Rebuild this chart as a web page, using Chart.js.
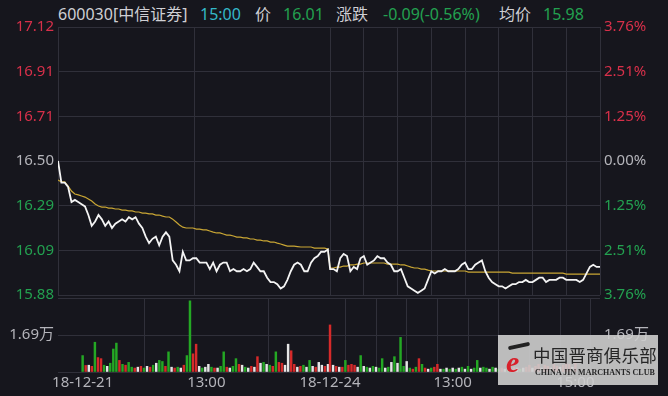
<!DOCTYPE html>
<html lang="zh-CN">
<head>
<meta charset="UTF-8">
<title>600030 分时</title>
<script src="https://cdn.jsdelivr.net/npm/chart.js@4.4.1/dist/chart.umd.min.js"></script>
<style>
  body { margin: 0; width: 668px; height: 396px; overflow: hidden; position: relative;
         background: #16161d; font-family: "Noto Sans", "Noto Sans CJK SC", sans-serif; }
  canvas { position: absolute; left: 0; }
  #price { top: 0; }
  #vol { top: 285px; }
  .hd { position: absolute; top: 3px; font-size: 16px; line-height: 22px; white-space: nowrap; color: #cfcfd4; }
  .g { color: #23a150; }
  .c { color: #34b8c8; }
  #wm { position: absolute; left: 498px; top: 335px; width: 160px; height: 50px;
        background: rgba(206,206,206,0.9); }
  #wm .logo { position: absolute; left: 8px; top: 12px; font: italic bold 30px "Liberation Serif", serif;
              color: #d8202a; line-height: 30px; }
  #wm .brush { position: absolute; left: 10px; top: 9px; width: 22px; height: 4px; background: #222;
               transform: rotate(-12deg); border-radius: 2px; }
  #wm .cn { position: absolute; left: 35px; top: 10px; font: 17.5px "Noto Sans CJK SC", sans-serif;
            color: #262626; line-height: 20px; letter-spacing: 0.2px; }
  #wm .en { position: absolute; left: 37px; top: 33px; font: bold 8px "Liberation Serif", serif;
            color: #262626; line-height: 10px; white-space: nowrap; }
</style>
</head>
<body>

<div class="hd" style="left:58px">600030[中信证券]</div>
<div class="hd c" style="left:200px">15:00</div>
<div class="hd" style="left:255px">价</div>
<div class="hd g" style="left:283px">16.01</div>
<div class="hd" style="left:336px">涨跌</div>
<div class="hd g" style="left:383px">-0.09(-0.56%)</div>
<div class="hd" style="left:499px">均价</div>
<div class="hd g" style="left:543px">15.98</div>

<canvas id="price" width="668" height="310"></canvas>
<canvas id="vol" width="668" height="111"></canvas>

<div id="wm">
  <div class="brush"></div>
  <span class="logo">e</span>
  <div class="cn">中国晋商俱乐部</div>
  <div class="en">CHINA JIN MARCHANTS CLUB</div>
</div>

<script>
// sampled every 3 minutes, day 2 starts at minute slot 242
const STEP = 3;
const DAY2_START = 242;
const X_MAX = 482;

const day1Price = [
  16.50, 16.40, 16.40, 16.38, 16.31, 16.32, 16.31, 16.30, 16.29, 16.25,
  16.20, 16.22, 16.25, 16.23, 16.20, 16.22, 16.19, 16.21, 16.22, 16.23,
  16.22, 16.24, 16.23, 16.24, 16.21, 16.19, 16.15, 16.12, 16.14, 16.15,
  16.11, 16.15, 16.17, 16.15, 16.04, 16.02, 15.99, 16.08, 16.04, 16.04,
  16.05, 16.05, 16.03, 16.03, 16.03, 16.00, 16.03, 15.99, 16.02, 16.03,
  16.03, 15.99, 16.00, 15.99, 15.99, 16.00, 15.99, 16.00, 16.03, 16.01,
  15.99, 15.99, 15.96, 15.94, 15.94, 15.93, 15.91, 15.92, 15.95, 15.99,
  16.02, 16.03, 16.02, 15.99, 15.99, 16.03, 16.05, 16.06, 16.08, 16.08,
  16.09
];
const day2Price = [
  16.00, 16.00, 15.99, 16.05, 16.07, 16.06, 15.99, 16.01, 16.00, 16.05,
  16.06, 16.02, 16.03, 16.04, 16.06, 16.05, 16.05, 16.03, 16.02, 15.99,
  15.99, 16.00, 15.96, 15.92, 15.91, 15.90, 15.89, 15.90, 15.91, 15.95,
  15.99, 15.98, 15.99, 15.99, 16.00, 15.99, 15.99, 15.99, 16.00, 16.02,
  16.03, 16.00, 16.00, 16.02, 16.03, 16.04, 15.99, 15.96, 15.94, 15.93,
  15.92, 15.92, 15.91, 15.92, 15.93, 15.93, 15.94, 15.94, 15.95, 15.94,
  15.94, 15.95, 15.96, 15.96, 15.94, 15.95, 15.95, 15.95, 15.96, 15.96,
  15.95, 15.95, 15.95, 15.95, 15.94, 15.95, 15.98, 16.01, 16.02, 16.01,
  16.01
];
const day1Avg = [
  16.412, 16.403, 16.403, 16.384, 16.361, 16.347, 16.343, 16.338, 16.333, 16.324,
  16.315, 16.301, 16.292, 16.287, 16.287, 16.282, 16.282, 16.278, 16.278, 16.273,
  16.273, 16.269, 16.269, 16.264, 16.264, 16.259, 16.259, 16.255, 16.255, 16.250,
  16.250, 16.245, 16.241, 16.241, 16.231, 16.218, 16.204, 16.194, 16.190, 16.190,
  16.190, 16.185, 16.185, 16.181, 16.181, 16.176, 16.171, 16.167, 16.167, 16.162,
  16.157, 16.157, 16.153, 16.148, 16.148, 16.144, 16.144, 16.139, 16.139, 16.134,
  16.134, 16.130, 16.130, 16.125, 16.125, 16.120, 16.116, 16.111, 16.106, 16.106,
  16.106, 16.104, 16.102, 16.102, 16.102, 16.102, 16.097, 16.097, 16.097, 16.097,
  16.093
];
const day2Avg = [
  16.005, 16.005, 16.009, 16.009, 16.014, 16.014, 16.019, 16.019, 16.023, 16.023,
  16.028, 16.028, 16.028, 16.028, 16.028, 16.028, 16.028, 16.023, 16.023, 16.023,
  16.023, 16.019, 16.019, 16.014, 16.009, 16.005, 16.005, 16.000, 16.000, 15.995,
  15.991, 15.991, 15.991, 15.991, 15.991, 15.991, 15.991, 15.991, 15.991, 15.991,
  15.991, 15.986, 15.986, 15.986, 15.986, 15.986, 15.986, 15.986, 15.986, 15.986,
  15.986, 15.986, 15.986, 15.986, 15.981, 15.981, 15.981, 15.981, 15.981, 15.981,
  15.981, 15.981, 15.981, 15.981, 15.981, 15.981, 15.981, 15.981, 15.981, 15.981,
  15.977, 15.977, 15.977, 15.977, 15.977, 15.977, 15.977, 15.977, 15.977, 15.977,
  15.977
];
const day1Vol = [
  7500, 3000, 3100, 2600, 13600, 6600, 6100, 3100, 2600, 4000,
  10500, 13200, 5300, 3500, 3100, 4400, 2200, 1800, 2200, 2600,
  1800, 2600, 2200, 3100, 4000, 5300, 4800, 2600, 9200, 2200,
  1800, 2200, 1800, 3100, 7500, 32500, 8300, 12700, 2600, 1800,
  2200, 3500, 2200, 1800, 1800, 2600, 9200, 2200, 1800, 2600,
  6100, 3500, 3100, 2200, 1800, 2600, 2200, 7000, 4000, 4400,
  3500, 3100, 2600, 9200, 4400, 4000, 3100, 12700, 9700, 3500,
  2200, 2600, 3100, 2200, 5300, 2600, 2200, 4400, 3100, 2600,
  3500
];
const day2Vol = [
  21500, 3100, 2600, 2200, 2200, 5300, 3100, 3500, 3100, 2200,
  7500, 2600, 2200, 1800, 2600, 2200, 1800, 6100, 1800, 2200,
  4400, 7000, 4000, 15800, 2600, 4800, 1800, 1300, 2200, 6100,
  3500, 1800, 1300, 1800, 2200, 3500, 1300, 1300, 1800, 1300,
  1800, 1300, 1800, 2200, 1300, 2600, 1300, 1800, 5300, 1800,
  2200, 1800, 1300, 2200, 1800, 1300, 1800, 1300, 1800, 1300,
  2200, 1800, 1300, 1800, 2200, 3100, 1800, 2600, 3500, 1800,
  3100, 2600, 1800, 3500, 2600, 2200, 3100, 4000, 3500, 2200,
  4400
];
// r = up, g = down, w = flat
const day1Dir = 'grwrgrrgwg' + 'ggrgrggrwr' + 'gwrgwggrgw' + 'rgwrggrrwg' + 'wwgrwggrwg' +
                'grwgwrwrwg' + 'wgrgrrwwrr' + 'wrgwgwrwwr' + 'w';
const day2Dir = 'rwrwrgrrrw' + 'gwgwgwggwg' + 'wgwggwgrgr' + 'grwgrrwgwg' + 'wgwgwgwggw' +
                'ggwgwgrwgw' + 'rwgwrrwrrw' + 'rrwrrwrrrw' + 'r';

const priceTicks = ['15.88', '16.09', '16.29', '16.50', '16.71', '16.91', '17.12'];
const pctTicks = ['3.76%', '2.51%', '1.25%', '0.00%', '1.25%', '2.51%', '3.76%'];
const PRICE_MIN = 15.88, PRICE_MAX = 17.12;

const xTickPos = [0, 121, 242, 272, 302, 332, 362, 392, 422, 452, 482];
const xTickText = ['18-12-21', '13:00', '18-12-24', '', '', '', '13:00', '', '', '', '15:00'];

const VOL_MAX = 33800;
const volTicks = [0, 16900, 33800];
const volTickText = ['', '1.69万', ''];

const RED = '#d8304a', GREEN = '#23a150', GRAY = '#b4b4ba', GRID = '#30303a';
const tickColors = [GREEN, GREEN, GREEN, GRAY, RED, RED, RED];
const barColors = { r: '#d62a2a', g: '#24a824', w: '#e6e6e6' };
const font = { family: '"Noto Sans", sans-serif', size: 15 };

function pts(arr, start) {
  return arr.map((v, i) => ({ x: start + i * STEP, y: v }));
}

const xBase = {
  type: 'linear', min: 0, max: X_MAX,
  afterBuildTicks: s => { s.ticks = xTickPos.map(v => ({ value: v })); },
  grid: { color: GRID, drawTicks: false },
  border: { display: false }
};

new Chart(document.getElementById('price'), {
  type: 'line',
  data: {
    datasets: [
      { data: [...pts(day1Price, 0), ...pts(day2Price, DAY2_START)],
        borderColor: '#f4f4f4', borderWidth: 1.8, pointRadius: 0 },
      { data: [...pts(day1Avg, 0), ...pts(day2Avg, DAY2_START)],
        borderColor: '#c9a634', borderWidth: 1.2, pointRadius: 0 }
    ]
  },
  options: {
    responsive: false, animation: false, events: [],
    layout: { padding: { top: 27, bottom: 15, left: 0, right: 0 } },
    plugins: { legend: { display: false }, tooltip: { enabled: false } },
    scales: {
      x: { ...xBase, ticks: { display: false }, afterFit: s => { s.height = 0; } },
      y: {
        position: 'left', min: PRICE_MIN, max: PRICE_MAX,
        afterBuildTicks: s => {
          s.ticks = priceTicks.map((t, i) => ({ value: PRICE_MIN + i * (PRICE_MAX - PRICE_MIN) / 6 }));
        },
        ticks: { callback: (v, i) => priceTicks[i], color: c => tickColors[c.index], font, padding: 4 },
        grid: { color: GRID, drawTicks: false },
        border: { display: false },
        afterFit: s => { s.width = 58; }
      },
      y2: {
        position: 'right', min: PRICE_MIN, max: PRICE_MAX,
        afterBuildTicks: s => {
          s.ticks = pctTicks.map((t, i) => ({ value: PRICE_MIN + i * (PRICE_MAX - PRICE_MIN) / 6 }));
        },
        ticks: { callback: (v, i) => pctTicks[i], color: c => tickColors[c.index], font, padding: 4 },
        grid: { drawOnChartArea: false, drawTicks: false },
        border: { display: false },
        afterFit: s => { s.width = 68; }
      }
    }
  }
});

const dirs = (day1Dir + day2Dir).split('');

new Chart(document.getElementById('vol'), {
  type: 'bar',
  data: {
    datasets: [{
      data: [...pts(day1Vol, 0), ...pts(day2Vol, DAY2_START)],
      backgroundColor: dirs.map(d => barColors[d]),
      barThickness: 1.8
    }]
  },
  options: {
    responsive: false, animation: false, events: [],
    layout: { padding: { top: 10, bottom: 0, left: 0, right: 0 } },
    plugins: { legend: { display: false }, tooltip: { enabled: false } },
    scales: {
      x: {
        ...xBase,
        ticks: { callback: (v, i) => xTickText[i], color: GRAY, font, padding: 2,
                 maxRotation: 0, autoSkip: false },
        afterFit: s => { s.height = 24; }
      },
      y: {
        position: 'left', min: 0, max: VOL_MAX,
        afterBuildTicks: s => { s.ticks = volTicks.map(v => ({ value: v })); },
        ticks: { callback: (v, i) => volTickText[i], color: GRAY, font, padding: 4 },
        grid: { color: GRID, drawTicks: false },
        border: { display: false },
        afterFit: s => { s.width = 58; }
      },
      y2: {
        position: 'right', min: 0, max: VOL_MAX,
        afterBuildTicks: s => { s.ticks = volTicks.map(v => ({ value: v })); },
        ticks: { callback: (v, i) => volTickText[i], color: GRAY, font, padding: 4 },
        grid: { drawOnChartArea: false, drawTicks: false },
        border: { display: false },
        afterFit: s => { s.width = 68; }
      }
    }
  }
});
</script>
</body>
</html>
